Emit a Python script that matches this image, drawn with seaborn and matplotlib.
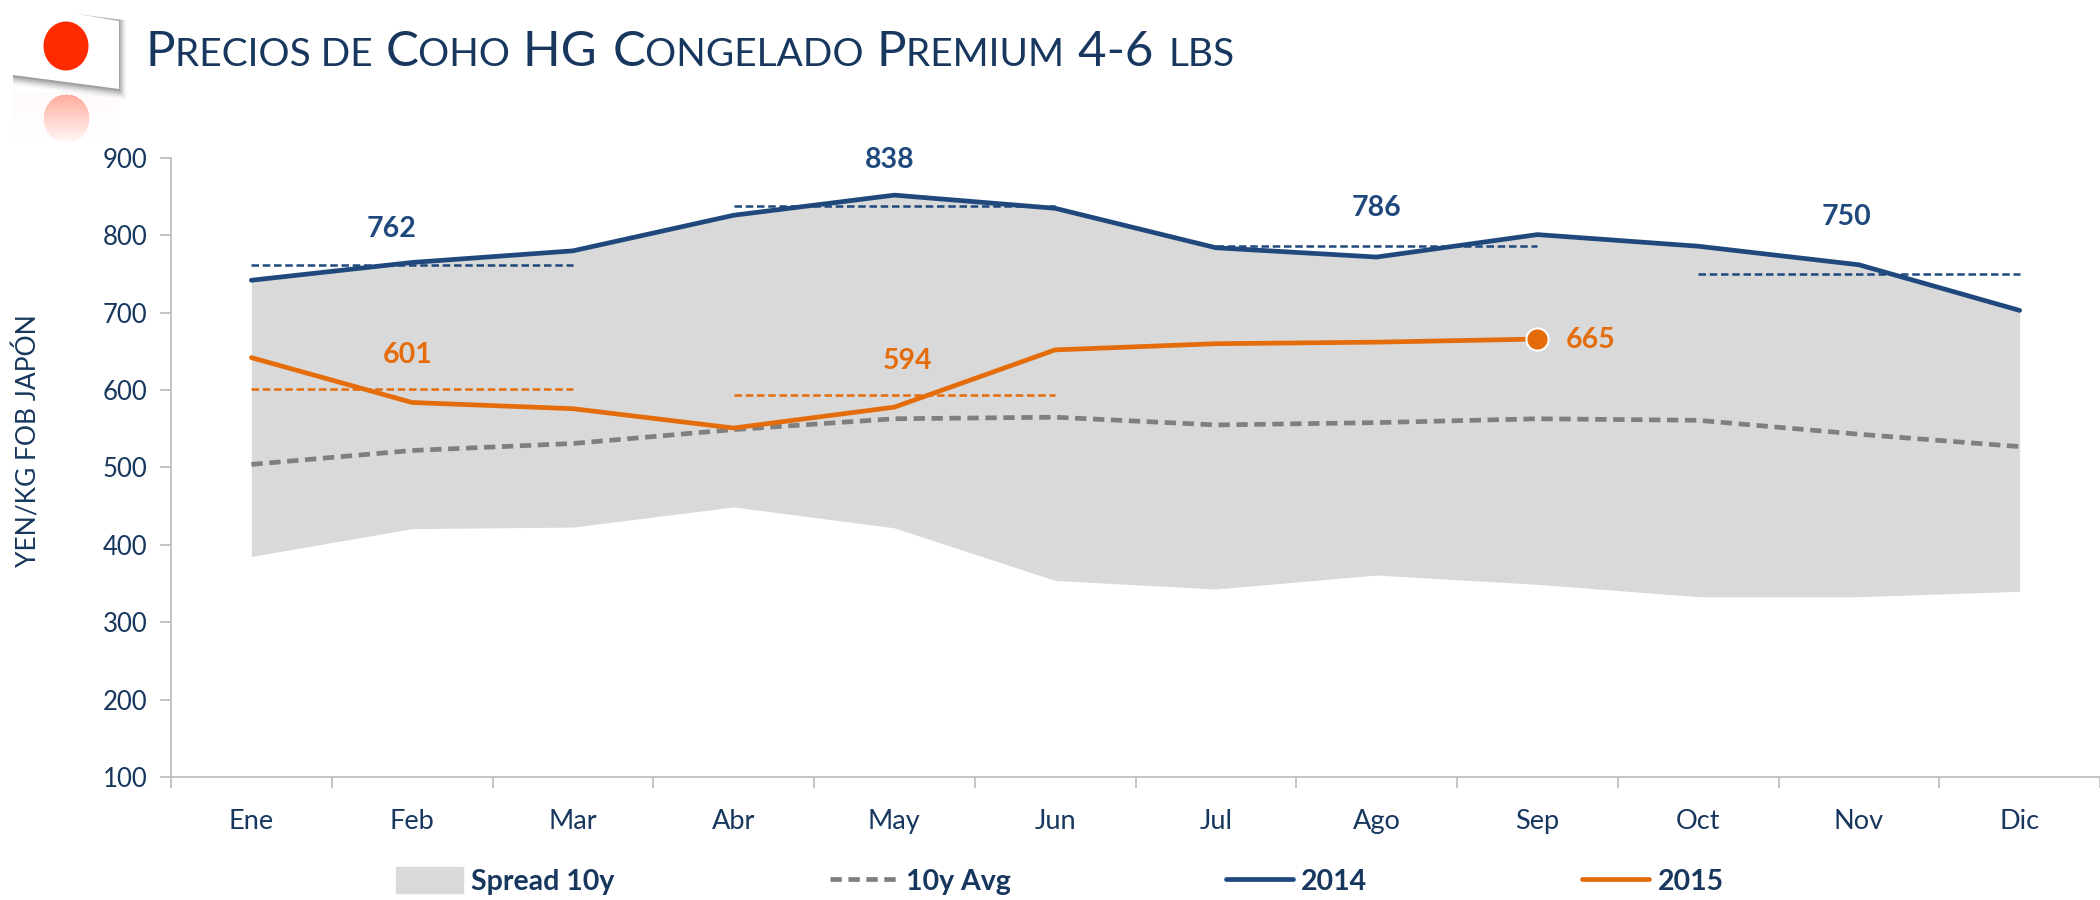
import numpy as np
import pandas as pd
import matplotlib
matplotlib.use("Agg")
import matplotlib.pyplot as plt
from matplotlib.patches import Polygon, Ellipse, Patch
from matplotlib.lines import Line2D
import seaborn as sns

months = ["Ene", "Feb", "Mar", "Abr", "May", "Jun", "Jul", "Ago", "Sep", "Oct", "Nov", "Dic"]
y2014 = [742, 765, 780, 826, 852, 835, 784, 772, 801, 786, 762, 703]
y2015 = [642, 584, 576, 551, 578, 652, 660, 662, 666]
avg10 = [504, 522, 531, 549, 563, 565, 555, 558, 563, 561, 543, 527]
low10 = [385, 421, 423, 449, 422, 354, 343, 361, 349, 333, 333, 340]

q_2014 = [762, 838, 786, 750]
q_2014_span = [(0, 2), (3, 5), (6, 8), (9, 11)]
q_2014_lab = [(0.87, 808), (3.97, 898), (7.0, 836), (9.92, 824)]
q_2015 = [601, 594]
q_2015_span = [(0, 2), (3, 5)]
q_2015_lab = [(0.97, 645), (4.08, 638)]
last_2015_lab = (8.33, 665)

NAVY = "#1F497D"
TEXT = "#17375E"
ORANGE = "#E46C0A"
GREY = "#7F7F7F"
AREA = "#D9D9D9"
AXIS = "#BFBFBF"

sns.set_theme(style="white")
plt.rcParams["font.family"] = ["Lato", "DejaVu Sans"]

fig = plt.figure(figsize=(21, 9), dpi=100, facecolor="white")
ax = fig.add_axes([171 / 2100, 1 - 777 / 900, (2100 - 171) / 2100, (777 - 158) / 900])

x = np.arange(len(months))
ax.fill_between(x, low10, y2014, color=AREA, lw=0, zorder=1)
df14 = pd.DataFrame({"x": x, "y": y2014})
dfavg = pd.DataFrame({"x": x, "y": avg10})
df15 = pd.DataFrame({"x": x[:len(y2015)], "y": y2015})
DASH = (0, (2.4, 1.4))
sns.lineplot(data=dfavg, x="x", y="y", ax=ax, color=GREY, lw=3.4, ls=DASH, zorder=3, errorbar=None)
sns.lineplot(data=df14, x="x", y="y", ax=ax, color=NAVY, lw=3.4, zorder=4, errorbar=None)
sns.lineplot(data=df15, x="x", y="y", ax=ax, color=ORANGE, lw=3.4, zorder=5, errorbar=None)
ax.plot(x[len(y2015) - 1], y2015[-1], "o", ms=16, mfc=ORANGE, mec="white", mew=1.5, zorder=6)

for v, (a, b), (lx, ly) in zip(q_2014, q_2014_span, q_2014_lab):
    ax.plot([a, b], [v, v], color=NAVY, lw=1.8, ls=(0, (3, 1.5)), zorder=3.5)
    ax.text(lx, ly, str(v), color=NAVY, fontsize=20.5, fontweight="bold", ha="center", va="center", clip_on=False)
for v, (a, b), (lx, ly) in zip(q_2015, q_2015_span, q_2015_lab):
    ax.plot([a, b], [v, v], color=ORANGE, lw=1.8, ls=(0, (3, 1.5)), zorder=3.5)
    ax.text(lx, ly, str(v), color=ORANGE, fontsize=20.5, fontweight="bold", ha="center", va="center")
ax.text(last_2015_lab[0], last_2015_lab[1], str(y2015[-1] - 1), color=ORANGE, fontsize=20.5,
        fontweight="bold", ha="center", va="center")

ax.set_xlim(-0.5, 11.5)
ax.set_ylim(100, 900)
ax.set_yticks(range(100, 901, 100))
ax.set_xticks(x)
ax.set_xticklabels(months)
ax.set_xticks(np.arange(-0.5, 12), minor=True)
ax.tick_params(axis="x", which="major", length=0, labelsize=19.5, labelcolor=TEXT, pad=23)
ax.tick_params(axis="x", which="minor", length=8, width=1.3, color=AXIS, bottom=True)
ax.tick_params(axis="y", length=8, width=1.3, color=AXIS, left=True, labelsize=18.5, labelcolor=TEXT, pad=9)
ax.set_xlabel("")
ax.set_ylabel("")
for s in ("top", "right"):
    ax.spines[s].set_visible(False)
for s in ("left", "bottom"):
    ax.spines[s].set_color(AXIS)
    ax.spines[s].set_linewidth(1.3)
ax.patch.set_alpha(0)

fig.text(28 / 2100, 1 - 441 / 900, "YEN/KG FOB JAPÓN", rotation=90, color=TEXT, fontsize=19,
         ha="center", va="center")

handles = [Patch(color=AREA),
           Line2D([], [], color=GREY, lw=3.4, ls=DASH),
           Line2D([], [], color=NAVY, lw=3.4),
           Line2D([], [], color=ORANGE, lw=3.4)]
leg = fig.legend(handles, ["Spread 10y", "10y Avg", "2014", "2015"], ncol=4, frameon=False,
                 loc="center left", bbox_to_anchor=(396 / 2100, 1 - 881 / 900),
                 prop={"weight": "bold", "size": 20.5}, handlelength=2.35, handleheight=1.0,
                 handletextpad=0.3, columnspacing=7.56, borderpad=0, borderaxespad=0)
for t in leg.get_texts():
    t.set_color(TEXT)

# overlay in pixel coordinates for the card logo and the title
ov = fig.add_axes([0, 0, 1, 1], zorder=-1)
ov.axis("off")

# reflection of the logo
yy, xx = np.mgrid[92:150, 13:119]
ell = (((xx - 66) / 23) ** 2 + ((yy - 118) / 24) ** 2) <= 1
ramp = np.clip((146 - yy) / 56, 0, 1)
rgba = np.ones(yy.shape + (4,))
rgba[..., 1] = np.where(ell, 0.16, 0.5)
rgba[..., 2] = np.where(ell, 0.0, 0.5)
rgba[..., 3] = np.where(ell, ramp * 0.42, 0.035 * ramp)
ov.imshow(rgba, extent=(13, 119, 150, 92), aspect="auto", zorder=1, interpolation="bilinear")
ov.set_xlim(0, 2100)
ov.set_ylim(900, 0)
# soft shadow of the card
for grow, al in zip((9, 7, 5, 3, 1), (0.05, 0.08, 0.12, 0.16, 0.22)):
    ov.add_patch(Polygon([(13, 6), (119 + grow * 0.8, 20), (119 + grow * 0.8, 90 + grow), (13, 76 + grow)],
                         closed=True, fc="#404040", ec="none", alpha=al, zorder=2))
ov.add_patch(Polygon([(13, 3), (119, 21), (119, 89), (13, 75)], closed=True, fc="white", ec="none", zorder=3))
ov.add_patch(Ellipse((66, 46), 45, 49, fc="#FF2A00", ec="none", zorder=4))

# small-caps title, composed of real text pieces
title_parts = [("P", 1), ("RECIOS DE ", 0), ("C", 1), ("OHO ", 0), ("HG ", 1), ("C", 1), ("ONGELADO ", 0),
               ("P", 1), ("REMIUM ", 0), ("4-6 ", 1), ("LBS", 0)]
fig.canvas.draw()
rend = fig.canvas.get_renderer()
px = 145.0
for s, big in title_parts:
    t = ov.text(px, 66, s, fontsize=35.5 if big else 28, color=TEXT, fontweight="normal",
                ha="left", va="baseline", zorder=5)
    px += t.get_window_extent(rend).width + (s.endswith(" ") * 3)

fig.savefig("out.png", dpi=100)
